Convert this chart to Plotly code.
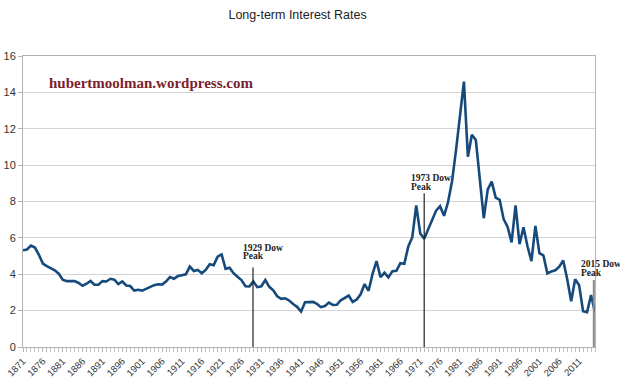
import plotly.graph_objects as go

years = list(range(1871, 2016))
rates = [
    5.32, 5.36, 5.58, 5.47, 5.07, 4.59, 4.45, 4.35, 4.22, 4.03,
    3.70, 3.62, 3.63, 3.62, 3.52, 3.37, 3.48, 3.63, 3.43, 3.42,
    3.62, 3.60, 3.75, 3.70, 3.46, 3.60, 3.38, 3.35, 3.10, 3.15,
    3.10, 3.20, 3.30, 3.40, 3.45, 3.43, 3.60, 3.85, 3.75, 3.90,
    3.95, 4.00, 4.42, 4.18, 4.24, 4.05, 4.24, 4.55, 4.50, 4.97,
    5.09, 4.30, 4.36, 4.06, 3.86, 3.68, 3.34, 3.33, 3.60, 3.29,
    3.34, 3.68, 3.31, 3.12, 2.79, 2.65, 2.68, 2.56, 2.36, 2.21,
    1.95, 2.46, 2.47, 2.48, 2.37, 2.19, 2.25, 2.44, 2.31, 2.32,
    2.57, 2.68, 2.83, 2.48, 2.61, 2.90, 3.46, 3.09, 4.02, 4.72,
    3.84, 4.08, 3.83, 4.17, 4.19, 4.61, 4.58, 5.53, 6.04, 7.79,
    6.24, 5.95, 6.46, 6.99, 7.50, 7.74, 7.21, 7.96, 9.10, 10.80,
    12.57, 14.59, 10.46, 11.67, 11.38, 9.19, 7.08, 8.67, 9.09, 8.21,
    8.09, 7.03, 6.60, 5.75, 7.78, 5.65, 6.58, 5.54, 4.72, 6.66,
    5.16, 5.04, 4.05, 4.15, 4.22, 4.42, 4.76, 3.74, 2.52, 3.73,
    3.39, 1.97, 1.91, 2.86, 1.88,
]
tick_years = list(range(1871, 2012, 5))
tick_labels = [str(y) for y in tick_years]
y_ticks = list(range(0, 17, 2))

peak_labels = ["1929 Dow", "1973 Dow", "2015 Dow"]
peak_x = [1928.9, 1972.0, 2014.7]
peak_top = [4.37, 8.45, 3.68]
label_x = [1926.2, 1968.5, 2011.2]
label_y1 = [5.47, 9.30, 4.54]
label_y2 = [4.98, 8.81, 4.05]
peak_colors = ["#222222", "#222222", "#888888"]
peak_widths = [1.2, 1.2, 2]

fig = go.Figure()
fig.add_trace(go.Scatter(
    x=years, y=rates, mode="lines",
    line=dict(color="#174a7c", width=2.6),
    hoverinfo="skip", showlegend=False,
))

shapes = []
annotations = []
for i in range(3):
    shapes.append(dict(type="line", xref="x", yref="y",
                       x0=peak_x[i], x1=peak_x[i], y0=0, y1=peak_top[i],
                       line=dict(color=peak_colors[i], width=peak_widths[i])))
    for txt, yy in ((peak_labels[i], label_y1[i]), ("Peak", label_y2[i])):
        annotations.append(dict(
            x=label_x[i], y=yy, xref="x", yref="y", text="<b>" + txt + "</b>",
            showarrow=False, xanchor="left", yanchor="middle",
            font=dict(family="Liberation Serif", size=9.5, color="#222222"),
            borderpad=0,
        ))

annotations.append(dict(
    x=1903.1, y=14.5, xref="x", yref="y",
    text="<b>hubertmoolman.wordpress.com</b>", showarrow=False,
    xanchor="center", yanchor="middle",
    font=dict(family="Liberation Serif", size=15, color="#7b1f2e"),
))

fig.update_layout(
    width=620, height=380,
    margin=dict(l=22.5, r=25, t=55.7, b=32.7, autoexpand=False),
    paper_bgcolor="white", plot_bgcolor="white",
    title=dict(text="Long-term Interest Rates", x=0.48, xanchor="center",
               y=1 - 15 / 380, yanchor="middle",
               font=dict(family="Liberation Sans", size=12.5, color="#222222")),
    shapes=shapes,
    annotations=annotations,
    xaxis=dict(
        range=[1871, 2015], tickmode="array", tickvals=tick_years,
        ticktext=tick_labels, tickangle=-45,
        tickfont=dict(family="Liberation Sans", size=9.5, color="#333333"),
        ticks="outside", ticklen=4, tickcolor="#b3b3b3",
        minor=dict(dtick=1, tick0=1871, ticks="outside", ticklen=4,
                   tickcolor="#c0c0c0", showgrid=False),
        showgrid=False, zeroline=False,
        showline=True, linecolor="#b3b3b3", linewidth=1, mirror=True,
        automargin=False, fixedrange=True,
    ),
    yaxis=dict(
        range=[0, 16], tickmode="array", tickvals=y_ticks,
        tickfont=dict(family="Liberation Sans", size=11, color="#333333"),
        ticks="outside", ticklen=4, tickcolor="#b3b3b3",
        showgrid=True, gridcolor="#d4d4d4", gridwidth=1, zeroline=False,
        showline=True, linecolor="#b3b3b3", linewidth=1, mirror=True,
        automargin=False, fixedrange=True,
    ),
)

fig.write_html("out.html", config={"displayModeBar": False},
               post_script="document.body.style.margin='0';")
